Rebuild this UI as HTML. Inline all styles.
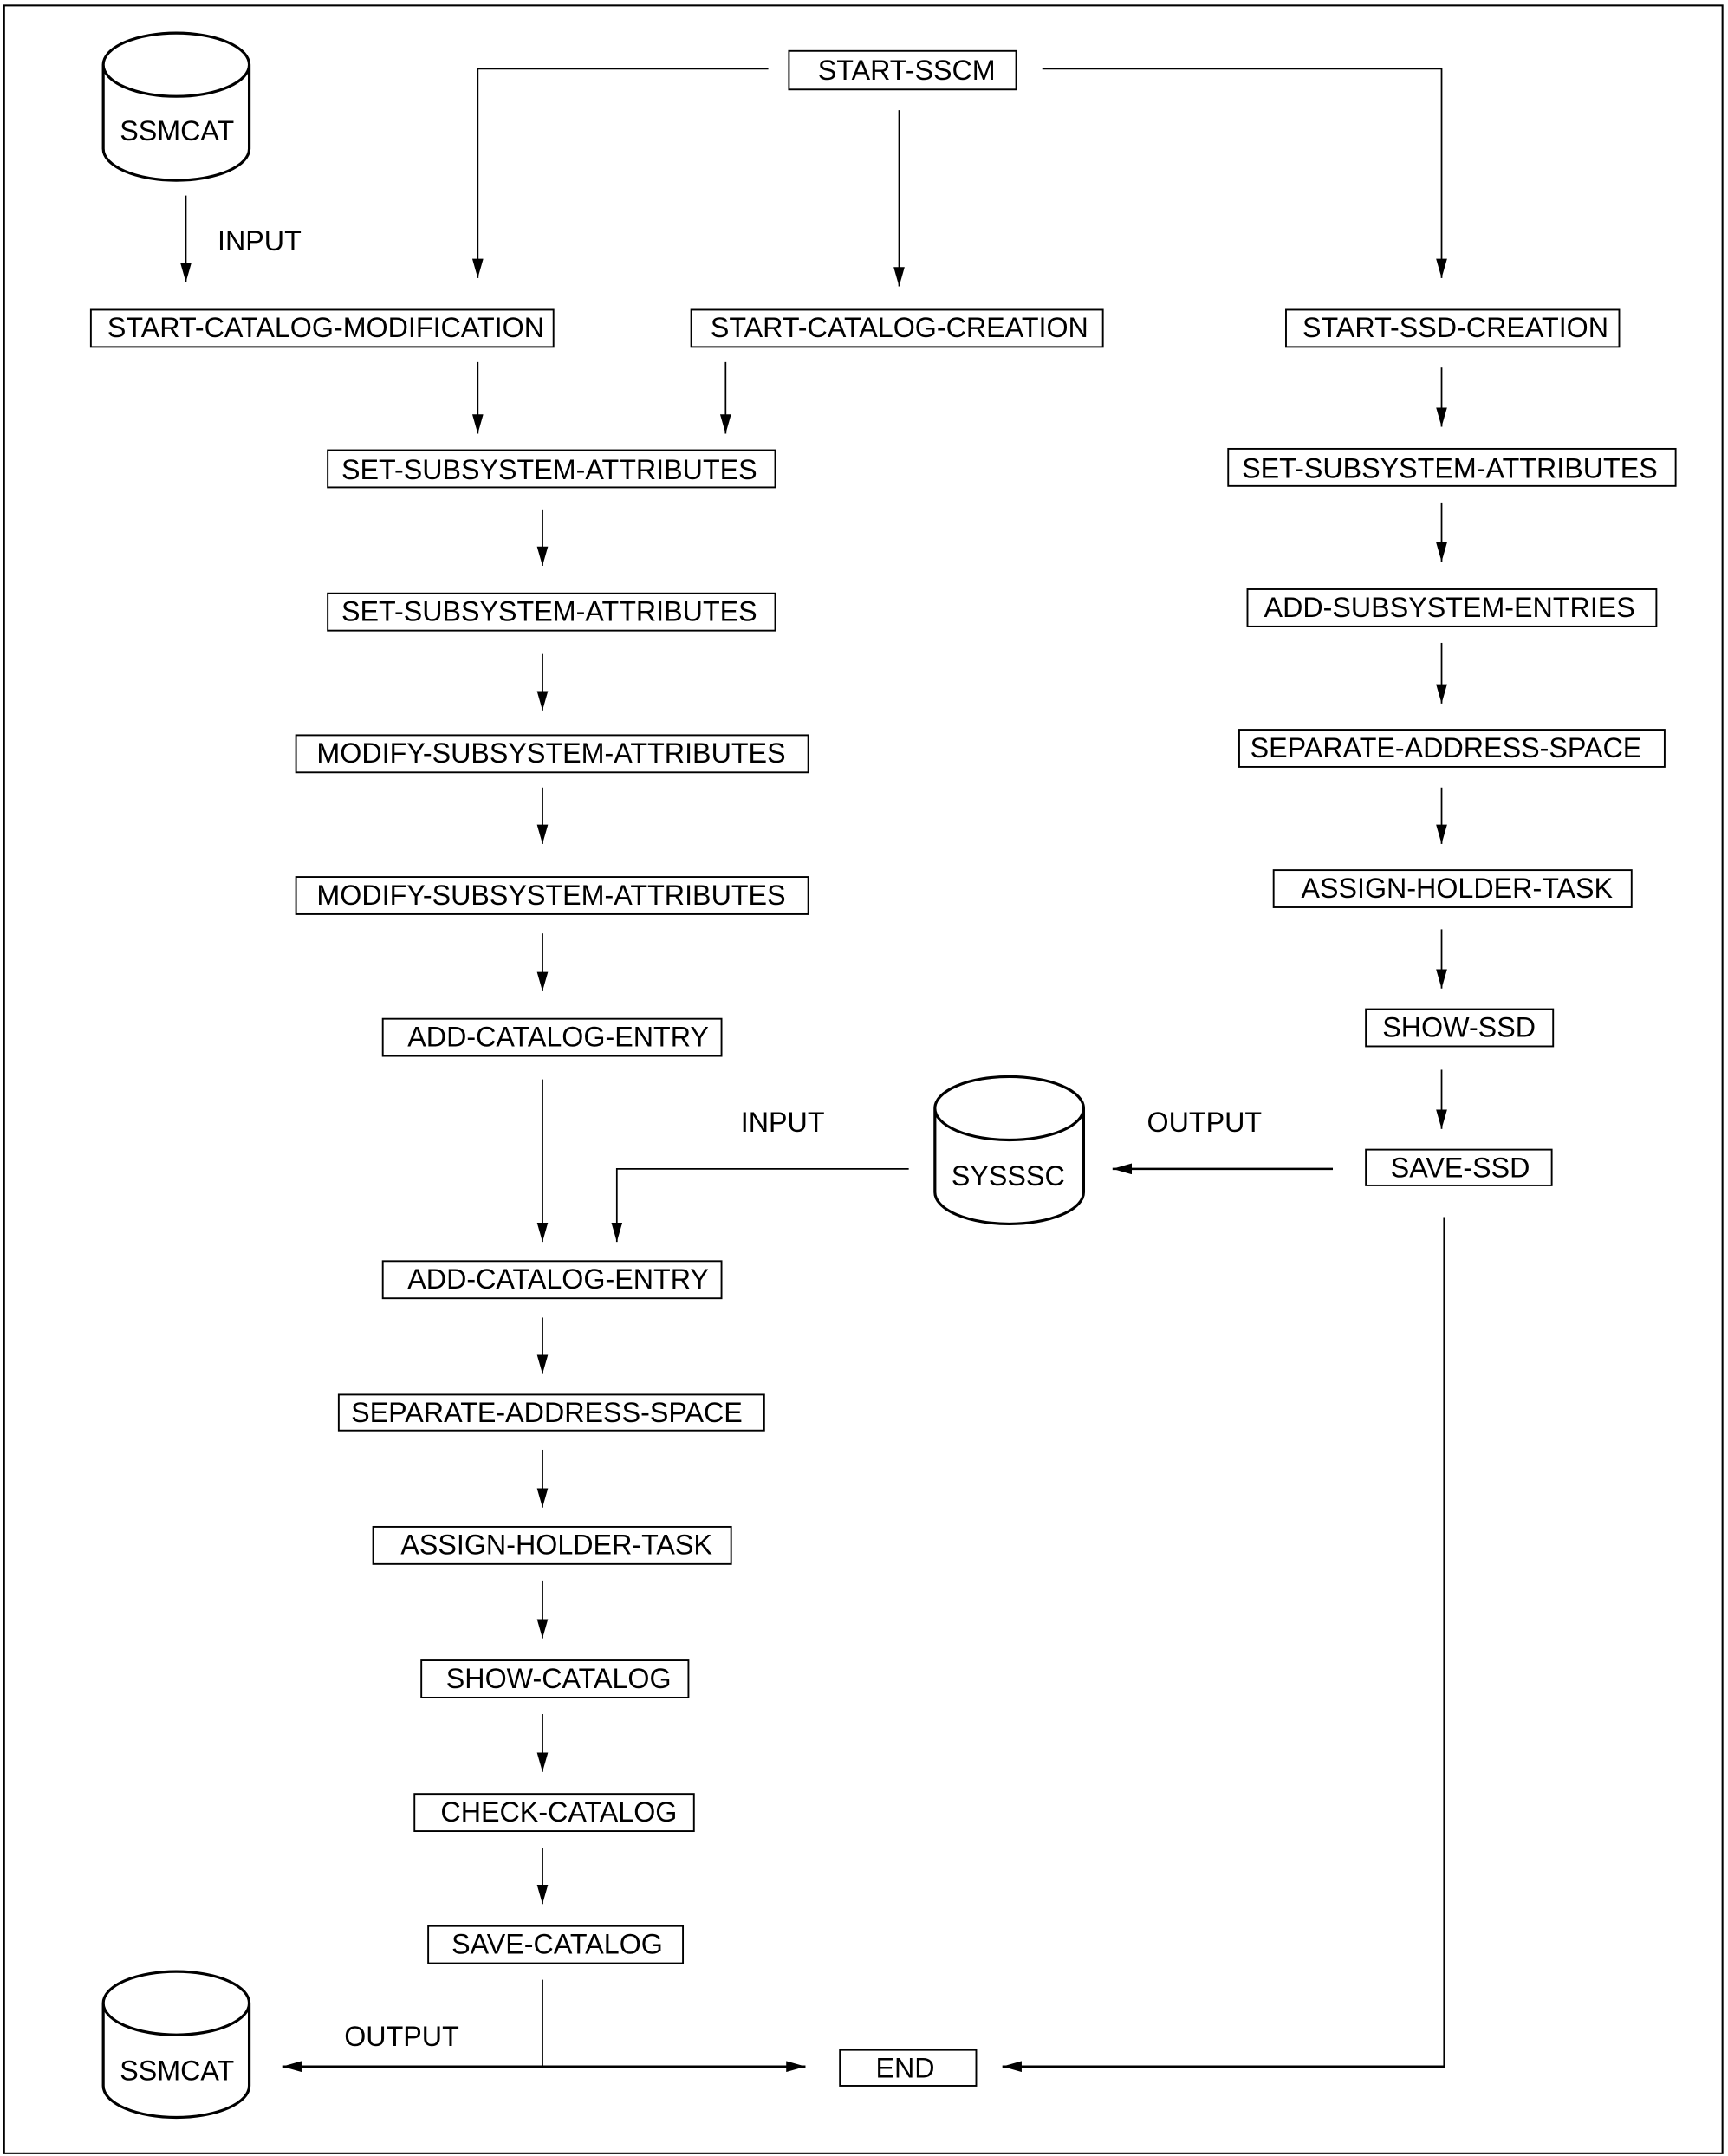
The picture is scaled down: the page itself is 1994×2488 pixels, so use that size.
<!DOCTYPE html>
<html><head><meta charset="utf-8"><style>
html,body{margin:0;padding:0;background:#fff}
svg{display:block}
text{font-family:"Liberation Sans",Arial,sans-serif;font-size:20.3px;fill:#000}
</style></head><body>
<svg width="1994" height="2488" viewBox="0 0 1255 1566" preserveAspectRatio="none" xmlns="http://www.w3.org/2000/svg">
<defs>
<marker id="a" viewBox="0 0 14 8" refX="14" refY="4" markerWidth="14" markerHeight="8" markerUnits="userSpaceOnUse" orient="auto"><path d="M0,0 L14,4 L0,8 Z" fill="#000"/></marker>
</defs>
<rect x="3" y="4" width="1248" height="1560" fill="none" stroke="#000" stroke-width="1.3"/>
<g fill="none" stroke="#000" stroke-width="1.2">
<rect x="573" y="37" width="165" height="28"/>
<rect x="66" y="225" width="336" height="27"/>
<rect x="502" y="225" width="299" height="27"/>
<rect x="934" y="225" width="242" height="27"/>
<rect x="238" y="327" width="325" height="27"/>
<rect x="892" y="326" width="325" height="27"/>
<rect x="238" y="431" width="325" height="27"/>
<rect x="906" y="428" width="297" height="27"/>
<rect x="215" y="534" width="372" height="27"/>
<rect x="900" y="530" width="309" height="27"/>
<rect x="215" y="637" width="372" height="27"/>
<rect x="925" y="632" width="260" height="27"/>
<rect x="278" y="740" width="246" height="27"/>
<rect x="992" y="733" width="136" height="27"/>
<rect x="992" y="835" width="135" height="26"/>
<rect x="278" y="916" width="246" height="27"/>
<rect x="246" y="1013" width="309" height="26"/>
<rect x="271" y="1109" width="260" height="27"/>
<rect x="306" y="1206" width="194" height="27"/>
<rect x="301" y="1303" width="203" height="27"/>
<rect x="311" y="1399" width="185" height="27"/>
<rect x="610" y="1489" width="99" height="26"/>
</g>
<g fill="none" stroke="#000" stroke-width="2">
<path d="M75,47 A53,23 0 0 1 181,47 L181,108 A53,23 0 0 1 75,108 Z M75,47 A53,23 0 0 0 181,47"/>
<path d="M679,805 A54,23 0 0 1 787,805 L787,866 A54,23 0 0 1 679,866 Z M679,805 A54,23 0 0 0 787,805"/>
<path d="M75,1455 A53,23 0 0 1 181,1455 L181,1515 A53,23 0 0 1 75,1515 Z M75,1455 A53,23 0 0 0 181,1455"/>
</g>
<g fill="none" stroke="#000" stroke-width="1.1" marker-end="url(#a)">
<path d="M135,142 V205"/>
<path d="M558,50 H347 V202"/>
<path d="M653,80 V208"/>
<path d="M757,50 H1047 V202"/>
<path d="M347,263 V315"/>
<path d="M527,263 V315"/>
<path d="M1047,267 V310"/>
<path d="M394,370 V411"/>
<path d="M394,475 V516"/>
<path d="M394,572 V613"/>
<path d="M394,678 V720"/>
<path d="M394,784 V902"/>
<path d="M1047,365 V408"/>
<path d="M1047,467 V511"/>
<path d="M1047,572 V613"/>
<path d="M1047,675 V718"/>
<path d="M1047,777 V820"/>
<path d="M660,849 H448 V902"/>
<path d="M968,849 H808" stroke-width="1.6"/>
<path d="M394,957 V998"/>
<path d="M394,1053 V1095"/>
<path d="M394,1148 V1190"/>
<path d="M394,1245 V1287"/>
<path d="M394,1342 V1383"/>
<path d="M1049,884 V1501 H728" stroke-width="1.6"/>
<path d="M394,1501 H585" stroke-width="1.6"/>
<path d="M394,1501 H205" stroke-width="1.6"/>
</g>
<path d="M394,1438 V1501" stroke="#000" stroke-width="1.1"/>
<g>
<text x="594" y="58">START-SSCM</text>
<text x="78" y="245">START-CATALOG-MODIFICATION</text>
<text x="516" y="245">START-CATALOG-CREATION</text>
<text x="946" y="245">START-SSD-CREATION</text>
<text x="248" y="348">SET-SUBSYSTEM-ATTRIBUTES</text>
<text x="902" y="347">SET-SUBSYSTEM-ATTRIBUTES</text>
<text x="248" y="451">SET-SUBSYSTEM-ATTRIBUTES</text>
<text x="918" y="448">ADD-SUBSYSTEM-ENTRIES</text>
<text x="230" y="554">MODIFY-SUBSYSTEM-ATTRIBUTES</text>
<text x="908" y="550">SEPARATE-ADDRESS-SPACE</text>
<text x="230" y="657">MODIFY-SUBSYSTEM-ATTRIBUTES</text>
<text x="945" y="652">ASSIGN-HOLDER-TASK</text>
<text x="296" y="760">ADD-CATALOG-ENTRY</text>
<text x="1004" y="753">SHOW-SSD</text>
<text x="1010" y="855">SAVE-SSD</text>
<text x="296" y="936">ADD-CATALOG-ENTRY</text>
<text x="255" y="1033">SEPARATE-ADDRESS-SPACE</text>
<text x="291" y="1129">ASSIGN-HOLDER-TASK</text>
<text x="324" y="1226">SHOW-CATALOG</text>
<text x="320" y="1323">CHECK-CATALOG</text>
<text x="328" y="1419">SAVE-CATALOG</text>
<text x="636" y="1509">END</text>
<text x="87" y="102">SSMCAT</text>
<text x="691" y="861">SYSSSC</text>
<text x="87" y="1511">SSMCAT</text>
<text x="158" y="182">INPUT</text>
<text x="538" y="822">INPUT</text>
<text x="833" y="822">OUTPUT</text>
<text x="250" y="1486">OUTPUT</text>
</g>
</svg>
</body></html>
